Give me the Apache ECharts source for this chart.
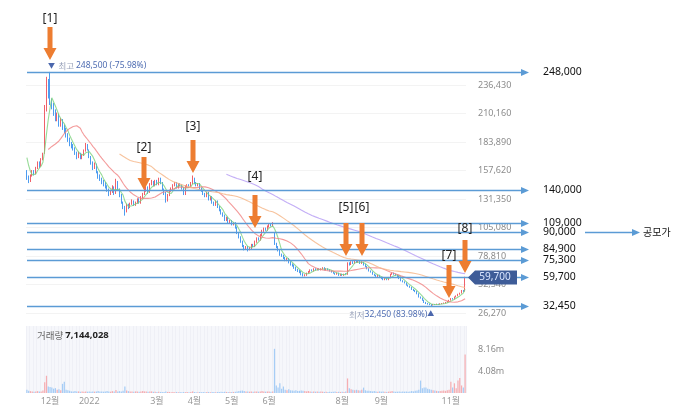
<!DOCTYPE html>
<html>
<head>
<meta charset="utf-8">
<script src="https://cdn.jsdelivr.net/npm/echarts@6/dist/echarts.min.js"></script>
<style>
html, body { margin: 0; padding: 0; background: #fff; }
#main { width: 681px; height: 411px; }
</style>
</head>
<body>
<div id="main"></div>
<script>
// KRX trading days from listing (2021-11-03) to 2022-11-11
var firstDay = '2021-11-03';
var lastDay = '2022-11-11';
var holidays = ['2021-12-31', '2022-01-31', '2022-02-01', '2022-02-02', '2022-03-01', '2022-03-09',
  '2022-05-05', '2022-06-01', '2022-06-06', '2022-08-15', '2022-09-09', '2022-09-12', '2022-10-03', '2022-10-10'];
var hiddenDays = 7; // listing days before the visible window, only feed the moving averages

// closes of the hidden first days (thousand won)
var preCloses = [193, 190, 188, 184, 180, 172, 160];

// visible daily candles [open, close, low, high] in thousand won
var dailyCandles = [
  // 2021-11
  [156,151,149,158],[152,148,146,153],[148,153,147,154],[153,156,152,158],[157,155,153,158],[155,160,154,161],
  [160,164,159,166],[165,162,160,166],[162,168,161,169],[168,172,167,174],[174,215,173,218],[216,240,212,244],[238,228,224,242],
  // 2021-12
  [232,222,218,248.5],[220,218,214,224],[218,212,208,220],[212,205,203,214],[205,208,203,211],[208,200,198,210],
  [200,203,198,206],[203,198,195,205],[198,195,192,200],[195,190,188,197],[190,186,184,192],[186,182,180,188],
  [182,180,178,184],[180,178,176,182],[178,174,172,179],[174,170,168,175],[170,173,169,175],[173,169,168,174],
  [169,172,168,173],[172,175,171,177],[176,181,175,183],[181,177,176,182],
  // 2022-01
  [176,170,169,177],[170,165,163,171],[165,160,158,166],[160,163,159,165],[163,156,155,164],[156,152,150,157],
  [152,150,148,154],[150,147,145,151],[147,145,143,149],[145,143,141,147],[143,140,138,144],[140,136,134,141],
  [136,138,135,140],[138,142,137,144],[142,136,135,143],[137,148,136,150],[147,140,139,148],[140,135,133,141],
  [135,128,127,136],[128,124,122,129],
  // 2022-02
  [124,120,116,125],[120,126,119,127],[126,124,122,127],[124,127,123,128],[127,129,126,131],[129,126,125,130],
  [126,128,125,129],[128,131,127,132],[131,128,127,132],[128,133,127,134],[133,136,132,137],[136,139,135,141],
  [139,142,138,143],[142,138,136,143],[138,145,137,146],[145,147,144,149],[147,144,143,148],[144,148,143,149],
  // 2022-03
  [148,145,144,149],[145,150,144,151],[150,146,145,151],[146,140,139,147],[140,137,135,141],[137,130,128,138],
  [130,135,129,136],[135,139,134,140],[139,141,138,142],[141,144,140,145],[144,146,143,147],[146,142,141,147],
  [142,145,141,146],[145,144,143,146],[144,141,140,145],[141,136,135,142],[136,143,135,144],[143,144,142,145],
  [144,143,142,145],[143,146,142,147],[146,150,145,153],
  // 2022-04
  [150,146,145,151],[146,144,143,147],[144,145,143,146],[145,141,140,146],[141,139,138,142],[139,136,135,140],
  [136,134,133,137],[134,137,133,138],[137,131,130,138],[131,133,130,134],[133,128,127,134],[128,126,125,129],
  [126,129,125,130],[129,124,123,130],[124,121,120,125],[121,118,117,122],[118,116,115,119],[116,112,111,117],
  [112,114,111,115],[114,110,109,115],[110,111,109,112],
  // 2022-05
  [111,108,107,112],[108,109,107,110],[109,105,104,110],[105,100,99,106],[100,96,95,101],[96,92,91,97],
  [92,88,87,93],[88,86,84,89],[86,87,85,88],[87,85,83,88],[85,86,84,87],[86,89,85,90],
  [89,88,87,90],[88,92,87,93],[92,95,91,96],[95,94,93,96],[94,98,93,99],[98,102,97,103],
  [102,104,101,105],[104,103,102,105],[103,106,102,107],
  // 2022-06
  [106,108,105,109],[108,107,106,109],[107,109,106,110],[100,90,89,101],[90,87,86,91],[87,84,83,88],
  [84,80,79,85],[80,79,78,81],[79,77,76,80],[77,75,74,78],[75,76,74,77],[76,73,72,77],
  [73,71,70,74],[71,70,69,72],[70,68,67,71],[68,66,65,69],[66,65,64,67],[65,64,63,66],
  [64,62,61,65],[62,61,60,63],
  // 2022-07
  [60.5,61,60,62],[61,63,60.5,63.5],[63,64,62.5,65],[64,66,63.5,66.5],[66,65,64.5,66.5],[65,67,64.5,67.5],
  [67,66,65.5,67.5],[66,67,65.5,67.5],[67,66,65.5,67.5],[66,67,65.5,67.5],[67,68,66.5,68.5],[68,66,65.5,68.5],
  [66,67,65.5,67.5],[67,66,65.5,67.5],[66,65,64.5,66.5],[65,64,63.5,65.5],[64,63,62.5,64.5],[63,62,61.5,63.5],
  [62,63,61.5,63.5],[63,61,60.5,63.5],[61,62,60.5,62.5],
  // 2022-08
  [62,61,60.5,62.5],[61,62,60.5,62.5],[62.5,62,61.5,63],[62,72,61.5,73],[72,71,70,73],[71,73,70.5,74],
  [73,72,71.5,74],[72,74,71.5,75],[74,73,72.5,75],[73,74,72.5,75],[74,72,71.5,74.5],[72,73,71.5,74],
  [73,71,70,73.5],[71,69,68.5,71.5],[69,67,66.5,69.5],[67,65,64.5,67.5],[65,64,63.5,65.5],[64,62,61.5,64.5],
  [62,61,60.5,62.5],[61,60,59.5,61.5],[60,61,59.5,61.5],[61,59,58.5,61.5],
  // 2022-09
  [59,58,57.5,59.5],[58,57,56.5,58.5],[57,58,56.5,58.5],[58,57,56.5,58.5],[57,59,56.5,59.5],[59,62,58.5,62.5],
  [62,63,61.5,63.5],[63,62,61.5,63.5],[62,61,60.5,62.5],[61,60,59.5,61.5],[60,58,57.5,60.5],[58,56,55.5,58.5],
  [56,55,54.5,56.5],[55,54,53.5,55.5],[54,52,51.5,54.5],[52,51,50.5,52.5],[51,50,49.5,51.5],[50,48,47.5,50.5],
  [48,47,46.5,48.5],[47,46,45.5,47.5],
  // 2022-10
  [46,44,43.5,46.5],[44,41,40.5,44.5],[41,40,39.5,41.5],[40,38,37.5,40.5],[38,36,35.5,38.5],[36,35,34.5,36.5],
  [35,34.5,34,35.5],[34.5,34,33.5,35],[34,33.6,32.45,34.5],[33.6,34.2,33.2,34.6],[34.2,34,33.6,34.6],[34,34.5,33.7,34.9],
  [34.5,34.2,33.8,34.8],[34.2,34.8,33.9,35.2],[34.8,35,34.4,35.4],[35,35.5,34.7,35.9],[35.5,36,35.1,36.4],[36,37,35.7,37.4],
  [37,38,36.7,38.4],
  // 2022-11
  [38,39.5,37.7,40],[39.5,39,38.6,40],[39,41,38.7,41.5],[41,42,40.6,42.5],[42,43.5,41.7,44],[43.5,44.5,43.1,45],
  [44.5,47,44.2,47.5],[47,45.95,45.5,47.5],[46.5,59.7,46,59.7]
];

// visible daily volume, millions of shares
var dailyVolumes = [
  0.6,0.4,0.35,0.3,0.25,0.3,0.35,0.3,0.3,0.45,
  2.0,3.2,1.2,1.1,1.0,0.8,0.9,0.6,0.7,0.5,
  1.7,2.1,0.6,0.5,0.4,0.3,0.3,0.35,0.3,0.3,
  0.25,0.3,0.25,0.3,0.25,0.3,0.25,0.3,0.25,0.3,
  0.35,0.3,0.3,0.25,0.3,0.35,0.3,0.25,0.35,0.3,
  0.55,0.3,0.35,0.3,0.4,1.2,0.45,0.35,0.3,0.3,
  0.25,0.3,0.3,0.25,0.3,0.35,0.3,0.3,0.25,0.3,
  0.3,0.25,0.25,0.2,0.25,0.2,0.2,0.2,0.3,0.2,
  0.2,0.15,0.2,0.15,0.2,0.15,0.2,0.15,0.2,0.15,
  0.2,0.15,0.2,0.3,0.2,0.15,0.15,0.2,0.15,0.2,
  0.15,0.2,0.2,0.15,0.2,0.2,0.15,0.2,0.2,0.25,
  0.2,0.25,0.2,0.2,0.2,0.2,0.2,0.25,0.3,0.35,
  0.4,0.45,0.35,0.3,0.3,0.25,0.3,0.25,0.3,0.3,
  0.25,0.3,0.35,0.3,0.25,0.3,0.3,0.25,0.3,8.2,
  1.4,1.0,1.8,0.8,1.2,0.6,0.5,0.7,0.5,0.45,
  0.4,0.5,0.35,0.4,0.45,0.4,0.35,0.3,0.35,0.3,
  0.25,0.3,0.25,0.3,0.25,0.3,0.25,0.2,0.25,0.2,
  0.25,0.2,0.25,0.3,0.2,0.25,0.2,0.25,0.2,0.3,
  2.7,0.9,0.7,0.6,0.5,0.6,0.5,0.45,0.6,1.0,
  0.5,0.4,0.4,0.35,0.3,0.35,0.3,0.25,0.3,0.25,
  0.3,0.25,0.2,0.25,0.3,0.35,0.3,0.25,0.25,0.3,
  0.25,0.3,0.25,0.3,0.25,0.3,0.35,0.3,0.4,0.45,
  0.6,2.3,0.9,1.0,1.0,0.8,0.7,0.6,0.5,0.45,
  0.4,0.35,0.35,0.4,0.45,0.4,0.5,0.6,2.1,1.0,
  1.8,0.9,2.3,2.8,1.4,1.0,7.144028
];

var monthTicks = {
  '2021-12-01': '12월', '2022-01-03': '2022', '2022-03-02': '3월', '2022-04-01': '4월', '2022-05-02': '5월',
  '2022-06-02': '6월', '2022-08-01': '8월', '2022-09-01': '9월', '2022-11-01': '11월'
};
var priceTicks = [26270, 52540, 78810, 105080, 131350, 157620, 183890, 210160, 236430];
var volumeTicks = [4080000, 8160000];

// blue reference lines: where each is drawn (won) and its label
var levelPrices = [248500, 140000, 109000, 100700, 84900, 75300, 59700, 32450];
var levelLabels = ['248,000', '140,000', '109,000', '90,000', '84,900', '75,300', '59,700', '32,450'];

// orange callouts: day index, price at arrow tip (thousand won)
var noteTexts = ['[1]', '[2]', '[3]', '[4]', '[5]', '[6]', '[7]', '[8]'];
var noteDays = [13, 66, 93, 128, 179, 188, 237, 246];
var noteTips = [259.5, 139.6, 155.3, 104.6, 78.8, 78.8, 40.1, 63.1];
var noteGaps = [8, 9.5, 13, 18.5, 15.5, 15.5, 9, 11];

function tradingDays() {
  var out = [];
  var d = new Date(firstDay + 'T00:00:00Z');
  var end = new Date(lastDay + 'T00:00:00Z');
  while (d <= end) {
    var s = d.toISOString().slice(0, 10);
    var w = d.getUTCDay();
    if (w !== 0 && w !== 6 && holidays.indexOf(s) < 0) out.push(s);
    d.setUTCDate(d.getUTCDate() + 1);
  }
  return out;
}

function movingAverage(closes, n) {
  return closes.map(function (c, i) {
    if (i < n - 1) return '-';
    var s = 0;
    for (var k = i - n + 1; k <= i; k++) s += closes[k];
    return Math.round(s / n * 1000);
  });
}

var days = tradingDays().slice(hiddenDays);
var allCloses = preCloses.concat(dailyCandles.map(function (r) { return r[1]; }));
var ma = {};
[5, 20, 60, 120].forEach(function (n) { ma[n] = movingAverage(allCloses, n).slice(hiddenDays); });

var candleData = dailyCandles.map(function (r) { return r.map(function (v) { return v * 1000; }); });
var volumeData = dailyVolumes.map(function (v, i) {
  var up = dailyCandles[i][1] >= dailyCandles[i][0];
  return { value: Math.round(v * 1e6), itemStyle: { color: up ? '#f6aeb2' : '#a6cdf6' } };
});

var chart = echarts.init(document.getElementById('main'));
var font = '"Noto Sans", "Noto Sans CJK KR", sans-serif';

function maLine(n, color) {
  return {
    type: 'line', name: 'MA' + n, data: ma[n], showSymbol: false, silent: true,
    lineStyle: { width: 1.1, color: color }, z: 3
  };
}

var option = {
  animation: false,
  backgroundColor: '#fff',
  textStyle: { fontFamily: font },
  grid: [
    { left: 26, width: 440, top: 65, height: 255 },
    { left: 26, width: 440, top: 326, height: 67, show: true, backgroundColor: '#f6f7fb', borderWidth: 0 }
  ],
  xAxis: [
    {
      type: 'category', gridIndex: 0, data: days,
      axisLine: { show: false }, axisTick: { show: false }, axisLabel: { show: false }, splitLine: { show: false }
    },
    {
      type: 'category', gridIndex: 1, data: days,
      axisLine: { show: false }, axisTick: { show: false },
      axisLabel: {
        interval: function (i, v) { return !!monthTicks[v]; },
        formatter: function (v) { return monthTicks[v] || ''; },
        color: '#999', fontSize: 9, margin: 4
      },
      splitLine: { show: true, interval: 1, lineStyle: { color: '#eff0f6', width: 1 } }
    }
  ],
  yAxis: [
    {
      type: 'value', gridIndex: 0, position: 'right', min: 19818, max: 254865,
      axisLine: { show: false },
      axisTick: { show: false, customValues: priceTicks },
      axisLabel: {
        customValues: priceTicks, color: '#8c8c8c', fontSize: 9, margin: 12,
        formatter: function (v) { return echarts.format.addCommas(v); }
      },
      splitLine: { show: true, lineStyle: { color: '#f3f3f3' } }
    },
    {
      type: 'value', gridIndex: 1, position: 'right', min: 0, max: 12430000,
      axisLine: { show: false },
      axisTick: { show: false, customValues: volumeTicks },
      axisLabel: {
        customValues: volumeTicks, color: '#8c8c8c', fontSize: 9, margin: 12,
        formatter: function (v) { return (v / 1e6).toFixed(2) + 'm'; }
      },
      splitLine: { show: false }
    }
  ],
  series: [
    {
      type: 'candlestick', name: 'price', data: candleData, barWidth: '70%',
      itemStyle: { color: '#f0606a', color0: '#4d9cf0', borderColor: '#f0606a', borderColor0: '#4d9cf0', borderWidth: 1 },
      z: 2
    },
    maLine(5, 'rgba(125, 210, 125, 0.8)'),
    maLine(20, 'rgba(240, 130, 130, 0.8)'),
    maLine(60, 'rgba(246, 185, 140, 0.85)'),
    maLine(120, 'rgba(185, 160, 245, 0.85)'),
    {
      type: 'bar', name: 'volume', xAxisIndex: 1, yAxisIndex: 1, data: volumeData, barWidth: '70%', silent: true
    }
  ]
};
chart.setOption(option);

function px(day, price) {
  return chart.convertToPixel({ gridIndex: 0 }, [day, price]);
}

function buildGraphics() {
  var els = [];
  var lineLeft = 27, arrowTip = 529, labelX = 543;
  var blue = '#5b9bd5';

  levelPrices.forEach(function (p, i) {
    var y = Math.round(px(0, p)[1]) + 0.5;
    els.push({ type: 'line', silent: true, z: 10,
      shape: { x1: lineLeft, y1: y, x2: arrowTip - 6, y2: y },
      style: { stroke: blue, lineWidth: 1.6 } });
    els.push({ type: 'polygon', silent: true, z: 10,
      shape: { points: [[arrowTip - 8, y - 3.5], [arrowTip, y], [arrowTip - 8, y + 3.5]] },
      style: { fill: blue } });
    els.push({ type: 'text', silent: true, z: 10, x: labelX, y: y,
      style: { text: levelLabels[i], fill: '#111', font: '10.5px ' + font, verticalAlign: 'middle' } });
    if (levelLabels[i] === '90,000') {
      els.push({ type: 'line', silent: true, z: 10,
        shape: { x1: 585, y1: y, x2: 634, y2: y }, style: { stroke: blue, lineWidth: 1.4 } });
      els.push({ type: 'polygon', silent: true, z: 10,
        shape: { points: [[632, y - 3.5], [640, y], [632, y + 3.5]] }, style: { fill: blue } });
      els.push({ type: 'text', silent: true, z: 10, x: 643, y: y,
        style: { text: '공모가', fill: '#111', font: '10px "Noto Sans CJK KR", sans-serif', verticalAlign: 'middle' } });
    }
  });

  // current price tag
  var last = dailyCandles[dailyCandles.length - 1][1] * 1000;
  var ty = Math.round(px(0, last)[1]) + 0.5;
  els.push({ type: 'polygon', silent: true, z: 12,
    shape: { points: [[468, ty], [475, ty - 7], [517, ty - 7], [517, ty + 7], [475, ty + 7]] },
    style: { fill: '#3e5c98' } });
  els.push({ type: 'text', silent: true, z: 13, x: 495, y: ty,
    style: { text: echarts.format.addCommas(last), fill: '#d9e5ff', font: '10px ' + font, align: 'center', verticalAlign: 'middle' } });

  // high / low captions
  var hiIdx = 13, loIdx = 227;
  var hi = px(hiIdx, dailyCandles[hiIdx][3] * 1000);
  var lo = px(loIdx, dailyCandles[loIdx][2] * 1000);
  var rich = {
    t: { fill: '#4b67ad', fontSize: 7, fontFamily: font },
    g: { fill: '#9aa3bb', fontSize: 8.5, fontFamily: '"Noto Sans CJK KR", sans-serif' },
    b: { fill: '#4f6db2', fontSize: 8.5, fontFamily: font }
  };
  els.push({ type: 'text', silent: true, z: 11, x: hi[0] - 2, y: hi[1] - 6,
    style: { text: '{t|▼} {g|최고 }{b|248,500 (-75.98%)}', rich: rich, verticalAlign: 'middle' } });
  els.push({ type: 'text', silent: true, z: 11, x: lo[0] + 3, y: lo[1] + 8,
    style: { text: '{g|최저}{b|32,450 (83.98%)}{t|▲}', rich: rich, align: 'right', verticalAlign: 'middle' } });

  // volume caption
  els.push({ type: 'text', silent: true, z: 11, x: 37, y: 335,
    style: {
      text: '{a|거래량 }{b|7,144,028}', verticalAlign: 'middle',
      rich: {
        a: { fill: '#666', fontSize: 9.5, fontFamily: '"Noto Sans CJK KR", sans-serif' },
        b: { fill: '#222', fontSize: 9.5, fontWeight: 'bold', fontFamily: font }
      }
    } });

  // orange callout arrows
  var orange = '#ed7d31';
  noteTexts.forEach(function (t, i) {
    var p = px(noteDays[i], noteTips[i] * 1000);
    var x = Math.round(p[0]), y = p[1];
    els.push({ type: 'polygon', silent: true, z: 14,
      shape: { points: [[x - 2.5, y - 33], [x + 2.5, y - 33], [x + 2.5, y - 12], [x + 6.5, y - 12], [x, y],
        [x - 6.5, y - 12], [x - 2.5, y - 12]] },
      style: { fill: orange } });
    els.push({ type: 'text', silent: true, z: 14, x: x, y: y - 33 - noteGaps[i],
      style: { text: t, fill: '#222', font: '12px ' + font, align: 'center', verticalAlign: 'middle' } });
  });
  return els;
}

chart.setOption({ graphic: buildGraphics() });
</script>
</body>
</html>
